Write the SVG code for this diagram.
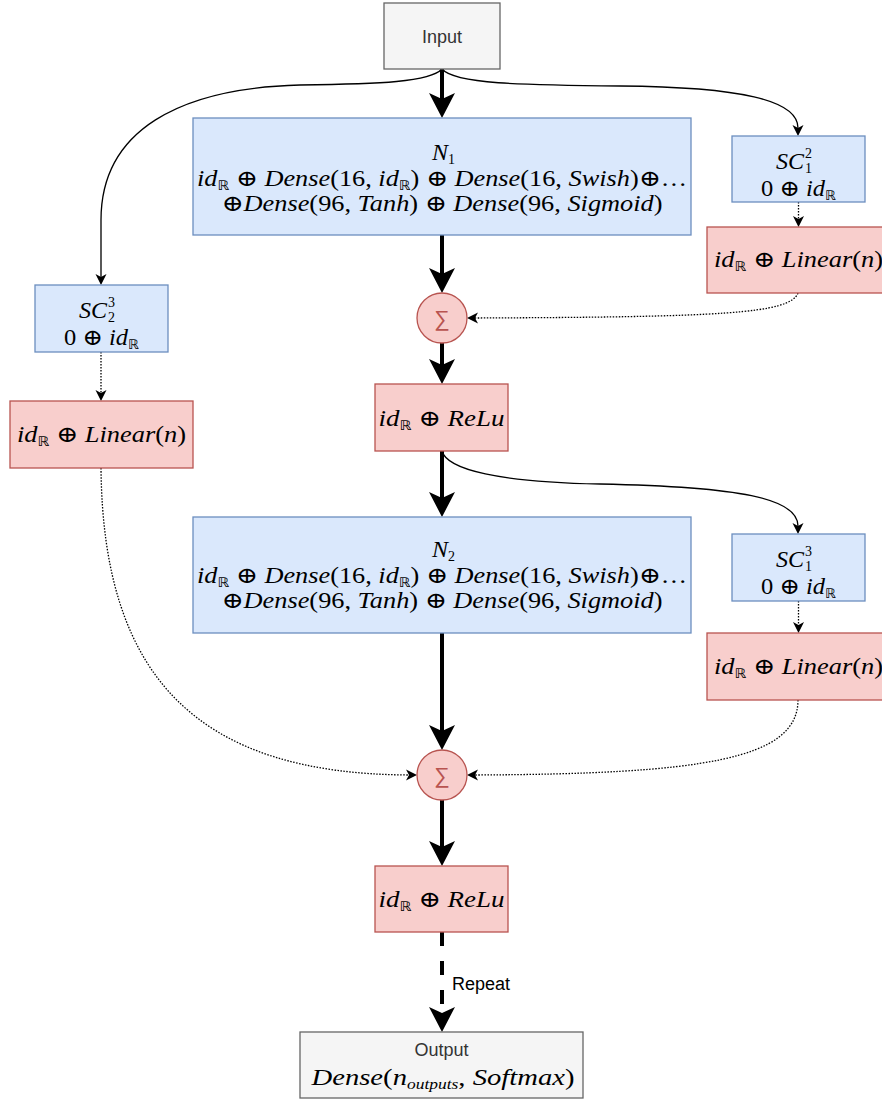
<svg xmlns="http://www.w3.org/2000/svg" width="882" height="1099" viewBox="0 0 882 1099">
<style>
.blue{fill:#dae8fc;stroke:#6c8ebf;stroke-width:1.3}
.red{fill:#f8cecc;stroke:#b85450;stroke-width:1.3}
.gray{fill:#f5f5f5;stroke:#666666;stroke-width:1.3}
.lbl{font-family:"Liberation Sans",Arial,sans-serif;font-size:18px;fill:#333333}
.m{font-family:"Liberation Serif","DejaVu Serif","DejaVu Sans",serif;font-size:23px;fill:#000}
.i{font-style:italic}
.sb{font-family:"DejaVu Sans",sans-serif;font-size:13px;font-style:normal}
.sc{font-size:14px}
.sig{font-family:"Liberation Sans","DejaVu Sans",sans-serif;font-size:22px;fill:#b85450}
.thick{fill:none;stroke:#000;stroke-width:4}
.thin{fill:none;stroke:#000;stroke-width:1.3}
.dot{fill:none;stroke:#000;stroke-width:1.3;stroke-dasharray:1.5 1.5}
.dash{stroke-dasharray:14 15}
</style>
<defs>
<marker id="ak" markerUnits="userSpaceOnUse" markerWidth="30" markerHeight="30" refX="6" refY="13" orient="auto" overflow="visible"><path d="M0,0 L25,13 L0,26 L6,13 Z" fill="#000"/></marker>
<marker id="at" markerUnits="userSpaceOnUse" markerWidth="14" markerHeight="14" refX="3" refY="5.5" orient="auto" overflow="visible"><path d="M0,0 L11,5.5 L0,11 L3,5.5 Z" fill="#000"/></marker>
</defs>

<g id="connectors">
<path class="thick" d="M442,69 V99" marker-end="url(#ak)"/>
<path class="thick" d="M442,235 V274" marker-end="url(#ak)"/>
<path class="thick" d="M442,343 V365" marker-end="url(#ak)"/>
<path class="thick" d="M442,451 V498" marker-end="url(#ak)"/>
<path class="thick" d="M442,633 V731" marker-end="url(#ak)"/>
<path class="thick" d="M442,800 V847" marker-end="url(#ak)"/>
<path class="thick dash" d="M442,932 V1013" marker-end="url(#ak)"/>
<path class="thin" d="M442,69 C455,84 520,85 620,86 C740,87 798,100 798,128" marker-end="url(#at)"/>
<path class="thin" d="M442,69 C430,82 380,84 300,85 C180,88 101,130 101,220 L101,277" marker-end="url(#at)"/>
<path class="dot" d="M798.5,202 V219" marker-end="url(#at)"/>
<path class="dot" d="M798,293 C790,314 720,317 475,318" marker-end="url(#at)"/>
<path class="dot" d="M101,352 V393" marker-end="url(#at)"/>
<path class="dot" d="M101,468 C103,680 200,774 409,775" marker-end="url(#at)"/>
<path class="thin" d="M442,451 C447,470 500,482 600,484 C740,487 798,498 798,526" marker-end="url(#at)"/>
<path class="dot" d="M798.5,601 V625" marker-end="url(#at)"/>
<path class="dot" d="M798,700 C798,760 700,774 475,775" marker-end="url(#at)"/>
<text class="lbl" x="452" y="990" style="fill:#000">Repeat</text>
</g>

<g id="input">
<rect class="gray" x="384" y="3" width="116" height="66"/>
<text class="lbl" x="442" y="43" text-anchor="middle">Input</text>
</g>

<g id="n1">
<rect class="blue" x="193" y="118" width="498" height="117"/>
<text class="m i" x="448" y="160" text-anchor="end" style="font-size:24px">N</text>
<text class="m sc" x="448" y="164">1</text>
<text class="m" x="442" y="186" text-anchor="middle" textLength="490" lengthAdjust="spacingAndGlyphs"><tspan class="i">id</tspan><tspan class="sb" dy="4">ℝ</tspan><tspan dy="-4"> ⊕ </tspan><tspan class="i">Dense</tspan><tspan>(16, </tspan><tspan class="i">id</tspan><tspan class="sb" dy="4">ℝ</tspan><tspan dy="-4">) ⊕ </tspan><tspan class="i">Dense</tspan><tspan>(16, </tspan><tspan class="i">Swish</tspan><tspan>)⊕…</tspan></text>
<text class="m" x="442" y="211" text-anchor="middle" textLength="441" lengthAdjust="spacingAndGlyphs"><tspan>⊕</tspan><tspan class="i">Dense</tspan><tspan>(96, </tspan><tspan class="i">Tanh</tspan><tspan>) ⊕ </tspan><tspan class="i">Dense</tspan><tspan>(96, </tspan><tspan class="i">Sigmoid</tspan><tspan>)</tspan></text>
</g>

<g id="sc12">
<rect class="blue" x="732" y="136" width="133" height="66"/>
<text class="m i" x="804" y="169" text-anchor="end" style="font-size:24px">SC</text>
<text class="m sc" x="805" y="158">2</text>
<text class="m sc" x="805" y="173">1</text>
<text class="m" x="798.5" y="196" text-anchor="middle" textLength="75" lengthAdjust="spacingAndGlyphs"><tspan>0 ⊕ </tspan><tspan class="i">id</tspan><tspan class="sb" dy="4">ℝ</tspan></text>
</g>

<g id="linr1">
<rect class="red" x="707" y="227" width="183" height="66"/>
<text class="m" x="798.5" y="267" text-anchor="middle" textLength="169" lengthAdjust="spacingAndGlyphs"><tspan class="i">id</tspan><tspan class="sb" dy="4">ℝ</tspan><tspan dy="-4"> ⊕ </tspan><tspan class="i">Linear</tspan><tspan>(</tspan><tspan class="i">n</tspan><tspan>)</tspan></text>
</g>

<g id="sc23">
<rect class="blue" x="35" y="285" width="133" height="67"/>
<text class="m i" x="107" y="318" text-anchor="end" style="font-size:24px">SC</text>
<text class="m sc" x="108" y="307">3</text>
<text class="m sc" x="108" y="322">2</text>
<text class="m" x="101.5" y="345" text-anchor="middle" textLength="75" lengthAdjust="spacingAndGlyphs"><tspan>0 ⊕ </tspan><tspan class="i">id</tspan><tspan class="sb" dy="4">ℝ</tspan></text>
</g>

<g id="linl">
<rect class="red" x="10" y="401" width="183" height="67"/>
<text class="m" x="101.5" y="442" text-anchor="middle" textLength="169" lengthAdjust="spacingAndGlyphs"><tspan class="i">id</tspan><tspan class="sb" dy="4">ℝ</tspan><tspan dy="-4"> ⊕ </tspan><tspan class="i">Linear</tspan><tspan>(</tspan><tspan class="i">n</tspan><tspan>)</tspan></text>
</g>

<g id="sum1">
<circle class="red" cx="442" cy="318" r="25"/>
<text class="sig" x="442" y="326" text-anchor="middle">∑</text>
</g>

<g id="relu1">
<rect class="red" x="375" y="384" width="133" height="67"/>
<text class="m" x="441.5" y="426" text-anchor="middle" textLength="126" lengthAdjust="spacingAndGlyphs"><tspan class="i">id</tspan><tspan class="sb" dy="4">ℝ</tspan><tspan dy="-4"> ⊕ </tspan><tspan class="i">ReLu</tspan></text>
</g>

<g id="n2">
<rect class="blue" x="193" y="517" width="498" height="116"/>
<text class="m i" x="448" y="557" text-anchor="end" style="font-size:24px">N</text>
<text class="m sc" x="448" y="561">2</text>
<text class="m" x="442" y="583" text-anchor="middle" textLength="490" lengthAdjust="spacingAndGlyphs"><tspan class="i">id</tspan><tspan class="sb" dy="4">ℝ</tspan><tspan dy="-4"> ⊕ </tspan><tspan class="i">Dense</tspan><tspan>(16, </tspan><tspan class="i">id</tspan><tspan class="sb" dy="4">ℝ</tspan><tspan dy="-4">) ⊕ </tspan><tspan class="i">Dense</tspan><tspan>(16, </tspan><tspan class="i">Swish</tspan><tspan>)⊕…</tspan></text>
<text class="m" x="442" y="608" text-anchor="middle" textLength="441" lengthAdjust="spacingAndGlyphs"><tspan>⊕</tspan><tspan class="i">Dense</tspan><tspan>(96, </tspan><tspan class="i">Tanh</tspan><tspan>) ⊕ </tspan><tspan class="i">Dense</tspan><tspan>(96, </tspan><tspan class="i">Sigmoid</tspan><tspan>)</tspan></text>
</g>

<g id="sc13">
<rect class="blue" x="732" y="534" width="133" height="67"/>
<text class="m i" x="804" y="567" text-anchor="end" style="font-size:24px">SC</text>
<text class="m sc" x="805" y="556">3</text>
<text class="m sc" x="805" y="571">1</text>
<text class="m" x="798.5" y="594" text-anchor="middle" textLength="75" lengthAdjust="spacingAndGlyphs"><tspan>0 ⊕ </tspan><tspan class="i">id</tspan><tspan class="sb" dy="4">ℝ</tspan></text>
</g>

<g id="linr2">
<rect class="red" x="707" y="633" width="183" height="67"/>
<text class="m" x="798.5" y="674" text-anchor="middle" textLength="169" lengthAdjust="spacingAndGlyphs"><tspan class="i">id</tspan><tspan class="sb" dy="4">ℝ</tspan><tspan dy="-4"> ⊕ </tspan><tspan class="i">Linear</tspan><tspan>(</tspan><tspan class="i">n</tspan><tspan>)</tspan></text>
</g>

<g id="sum2">
<circle class="red" cx="442" cy="775" r="25"/>
<text class="sig" x="442" y="783" text-anchor="middle">∑</text>
</g>

<g id="relu2">
<rect class="red" x="375" y="866" width="133" height="66"/>
<text class="m" x="441.5" y="907" text-anchor="middle" textLength="126" lengthAdjust="spacingAndGlyphs"><tspan class="i">id</tspan><tspan class="sb" dy="4">ℝ</tspan><tspan dy="-4"> ⊕ </tspan><tspan class="i">ReLu</tspan></text>
</g>

<g id="output">
<rect class="gray" x="300" y="1032" width="283" height="66"/>
<text class="lbl" x="441.5" y="1056" text-anchor="middle">Output</text>
<text class="m" x="443" y="1085" text-anchor="middle" textLength="263" lengthAdjust="spacingAndGlyphs"><tspan class="i">Dense</tspan><tspan>(</tspan><tspan class="i">n</tspan><tspan class="i" style="font-size:14px" dy="4">outputs</tspan><tspan dy="-4">, </tspan><tspan class="i">Softmax</tspan><tspan>)</tspan></text>
</g>
</svg>
